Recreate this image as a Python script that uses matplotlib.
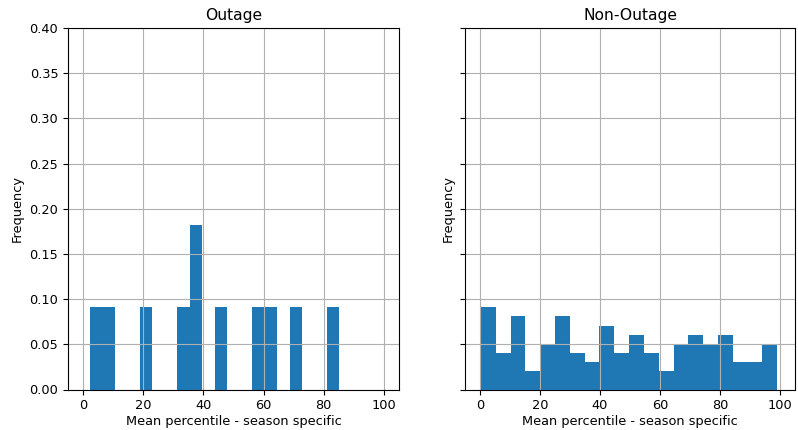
import matplotlib
matplotlib.use('Agg')
import matplotlib.pyplot as plt
import numpy as np

plt.rcParams['font.size'] = 9.3

# Outage: mean percentile values (11 events)
outage_values = [2.3, 8.0, 21.0, 33.0, 37.0, 38.5, 45.5, 58.0, 62.0, 70.5, 85.2]

# Non-Outage: counts per bin (20 bins between 0.3 and 99.1)
non_outage_counts = [9, 4, 8, 2, 5, 8, 4, 3, 7, 4, 6, 4, 2, 5, 6, 5, 6, 3, 3, 5]
non_outage_range = (0.3, 99.1)

fig = plt.figure(figsize=(7.98, 4.3), dpi=100)
ax1 = fig.add_axes([68 / 798, 1 - 389.5 / 430, 331 / 798, 361.5 / 430])
ax2 = fig.add_axes([465 / 798, 1 - 389.5 / 430, 330 / 798, 361.5 / 430], sharey=ax1)

w = np.ones(len(outage_values)) / len(outage_values)
ax1.hist(outage_values, bins=20, weights=w, color='#1f77b4')

edges = np.linspace(non_outage_range[0], non_outage_range[1], len(non_outage_counts) + 1)
centers = (edges[:-1] + edges[1:]) / 2
freqs = np.array(non_outage_counts) / sum(non_outage_counts)
ax2.hist(centers, bins=edges, weights=freqs, color='#1f77b4')

for ax, title in [(ax1, 'Outage'), (ax2, 'Non-Outage')]:
    ax.set_title(title, fontsize=11.2)
    ax.set_xlabel('Mean percentile - season specific', labelpad=2)
    ax.set_ylabel('Frequency')
    ax.grid(True)
    ax.set_xlim(-5, 105)
    ax.set_xticks([0, 20, 40, 60, 80, 100])

ax1.set_ylim(0, 0.4)
ax1.set_yticks(np.arange(0, 0.41, 0.05))
ax1.set_yticklabels([f'{v:.2f}' for v in np.arange(0, 0.41, 0.05)])
plt.setp(ax2.get_yticklabels(), visible=False)

plt.savefig('out.png', dpi=100)
